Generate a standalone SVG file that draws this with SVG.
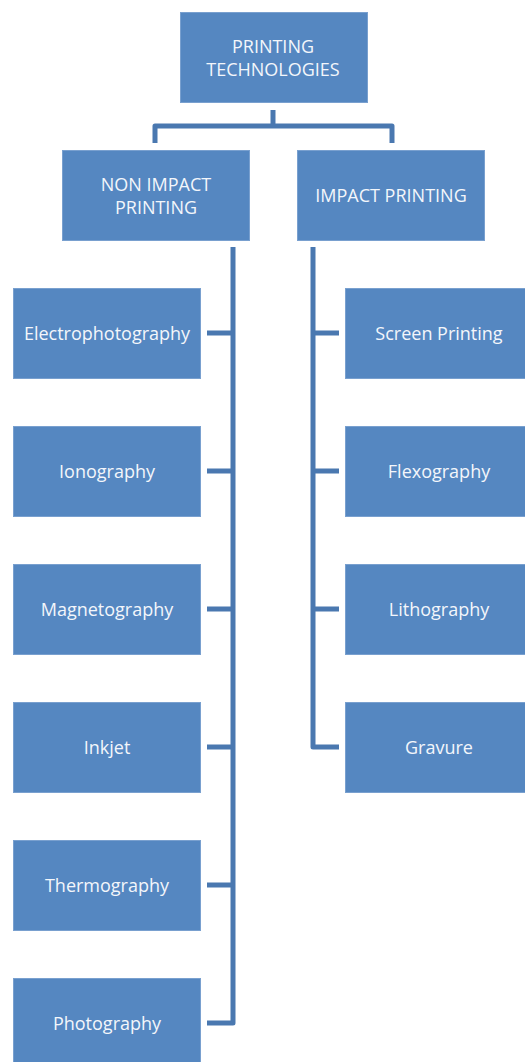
<svg xmlns="http://www.w3.org/2000/svg" width="525" height="1062" viewBox="0 0 525 1062">
<style>
.box{fill:#5587c1;stroke:#79a0cf;stroke-width:1}
.t{font-family:"Open Sans","Liberation Sans",sans-serif;font-size:18px;fill:#f3f6fb;text-anchor:middle}
.c{fill:none;stroke:#4a78b0;stroke-width:5;stroke-linejoin:round;stroke-linecap:butt}
</style>
<rect width="525" height="1062" fill="#ffffff"/>
<g id="connectors">
<path class="c" d="M273 110V126"/>
<path class="c" d="M155 143V126H392V143"/>
<path class="c" d="M233 247V1023H207"/>
<path class="c" d="M207 333H233M207 471H233M207 609H233M207 747H233M207 885H233"/>
<path class="c" d="M313 247V747H339"/>
<path class="c" d="M313 333H339M313 471H339M313 609H339"/>
</g>
<g id="root"><rect class="box" x="180.5" y="12.5" width="187" height="90"/><text class="t" x="273" y="52.5">PRINTING</text><text class="t" x="273" y="76">TECHNOLOGIES</text></g>
<g id="nonimpact"><rect class="box" x="62.5" y="150.5" width="187" height="90"/><text class="t" x="156" y="190.5">NON IMPACT</text><text class="t" x="156" y="213.5">PRINTING</text></g>
<g id="impact"><rect class="box" x="297.5" y="150.5" width="187" height="90"/><text class="t" x="391" y="201.5">IMPACT PRINTING</text></g>
<g id="electrophotography"><rect class="box" x="13.5" y="288.5" width="187" height="90"/><text class="t" x="107" y="339.5">Electrophotography</text></g>
<g id="ionography"><rect class="box" x="13.5" y="426.5" width="187" height="90"/><text class="t" x="107" y="477.5">Ionography</text></g>
<g id="magnetography"><rect class="box" x="13.5" y="564.5" width="187" height="90"/><text class="t" x="107" y="615.5">Magnetography</text></g>
<g id="inkjet"><rect class="box" x="13.5" y="702.5" width="187" height="90"/><text class="t" x="107" y="753.5">Inkjet</text></g>
<g id="thermography"><rect class="box" x="13.5" y="840.5" width="187" height="90"/><text class="t" x="107" y="891.5">Thermography</text></g>
<g id="photography"><rect class="box" x="13.5" y="978.5" width="187" height="90"/><text class="t" x="107" y="1029.5">Photography</text></g>
<g id="screenprinting"><rect class="box" x="345.5" y="288.5" width="187" height="90"/><text class="t" x="439" y="339.5">Screen Printing</text></g>
<g id="flexography"><rect class="box" x="345.5" y="426.5" width="187" height="90"/><text class="t" x="439" y="477.5">Flexography</text></g>
<g id="lithography"><rect class="box" x="345.5" y="564.5" width="187" height="90"/><text class="t" x="439" y="615.5">Lithography</text></g>
<g id="gravure"><rect class="box" x="345.5" y="702.5" width="187" height="90"/><text class="t" x="439" y="753.5">Gravure</text></g>
</svg>
